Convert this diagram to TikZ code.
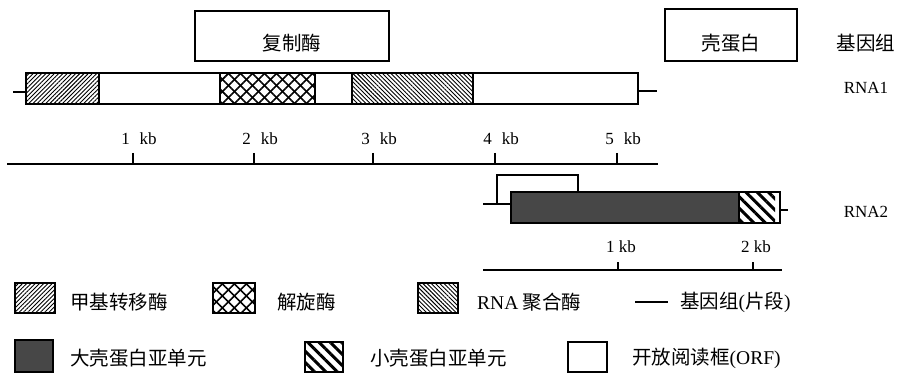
\documentclass[tikz,border=0pt]{standalone}
\usepackage{fontspec}
\setmainfont{Liberation Serif}
\newfontfamily\cjk{Noto Sans CJK SC}
\usetikzlibrary{patterns.meta}
\begin{document}
\begin{tikzpicture}[x=1pt,y=-1pt,line join=miter,
  outl/.style={draw,line width=1.5pt},
  stub/.style={line width=1.3pt},
  cjklab/.style={inner sep=0pt,font=\cjk\fontsize{19.5}{21}\selectfont},
  latlab/.style={inner sep=0pt,font=\fontsize{17}{19}\selectfont},
  scalelab/.style={inner sep=0pt,font=\fontsize{17}{19}\selectfont},
  hatchMT/.style={pattern={Lines[angle=45,distance=3pt,line width=0.9pt]}},
  hatchPol/.style={pattern={Lines[angle=-45,distance=3pt,line width=0.9pt]}},
  hatchSm/.style={pattern={Lines[angle=-45,distance=8pt,line width=3pt]}},
  xhA/.style={pattern={Lines[angle=45,distance=8.5pt,line width=1.6pt]}},
  xhB/.style={pattern={Lines[angle=-45,distance=8.5pt,line width=1.6pt]}},
  dark/.style={fill=black!72}
]
\useasboundingbox (0,0) rectangle (901,374);

% top boxes
\draw[outl] (195,11) rectangle (389,61);
\node[cjklab] (rep) at (292,43) {复制酶};
\draw[outl] (665,9) rectangle (797,61);
\node[cjklab] (coat) at (731,43) {壳蛋白};
\node[cjklab] (genome) at (866,43) {基因组};
\node[latlab] (rna1) at (866,88) {RNA1};
\node[latlab] (rna2) at (866,212) {RNA2};

% RNA1
\draw[stub] (13,92) -- (26,92);
\draw[stub] (638,91) -- (657,91);
\fill[white] (26,73) rectangle (638,104);
\fill[hatchMT] (26,73) rectangle (99,104);
\fill[xhA] (220,73) rectangle (315,104);
\fill[xhB] (220,73) rectangle (315,104);
\fill[hatchPol] (352,73) rectangle (473,104);
\draw[outl] (26,73) rectangle (638,104);
\foreach \x in {99,220,315,352,473} \draw[outl] (\x,73) -- (\x,104);

% scale 1
\draw[line width=1.5pt] (7,164) -- (658,164);
\foreach \x/\k in {133/1,254/2,373/3,495/4,617/5}{
  \draw[line width=1.5pt] (\x,153) -- (\x,164);
  \node[scalelab] at (\x+6,139) {\k\hspace{10pt}kb};
}

% RNA2
\draw[stub] (483,204) -- (511,204);
\draw[stub] (497,204) -- (497,175) -- (578,175) -- (578,192);
\draw[stub] (780,210) -- (788,210);
\fill[white] (511,192) rectangle (780,223);
\fill[dark] (511,192) rectangle (739,223);
\fill[hatchSm] (739,192) rectangle (775,223);
\draw[outl] (511,192) rectangle (780,223);
\draw[outl] (739,192) -- (739,223);

% scale 2
\draw[line width=1.5pt] (483,270) -- (782,270);
\foreach \x/\k in {618/1,753/2}{
  \draw[line width=1.5pt] (\x,262) -- (\x,270);
  \node[latlab] at (\x+3,247) {\k\ kb};
}

% legend row 1
\fill[hatchMT] (15,283) rectangle (55,313);
\draw[outl] (15,283) rectangle (55,313);
\node[cjklab,anchor=west] (l1) at (70,302) {甲基转移酶};
\fill[xhA] (213,283) rectangle (255,313);
\fill[xhB] (213,283) rectangle (255,313);
\draw[outl] (213,283) rectangle (255,313);
\node[cjklab,anchor=west] (l2) at (277,302) {解旋酶};
\fill[hatchPol] (418,283) rectangle (458,313);
\draw[outl] (418,283) rectangle (458,313);
\node[cjklab,anchor=west] (l3) at (477,302) {{\fontspec{Liberation Serif}RNA} 聚合酶};
\draw[line width=2pt] (635,302) -- (668,302);
\node[cjklab,anchor=west] (l4) at (680,302) {基因组{\fontspec{Liberation Serif}(}片段{\fontspec{Liberation Serif})}};

% legend row 2
\fill[dark] (15,340) rectangle (53,372);
\draw[outl] (15,340) rectangle (53,372);
\node[cjklab,anchor=west] (l5) at (70,358) {大壳蛋白亚单元};
\fill[hatchSm] (305,342) rectangle (343,372);
\draw[outl] (305,342) rectangle (343,372);
\node[cjklab,anchor=west] (l6) at (370,358) {小壳蛋白亚单元};
\draw[outl] (568,342) rectangle (607,372);
\node[cjklab,anchor=west] (l7) at (632,358) {开放阅读框{\fontspec{Liberation Serif}(ORF)}};
\end{tikzpicture}
\end{document}
